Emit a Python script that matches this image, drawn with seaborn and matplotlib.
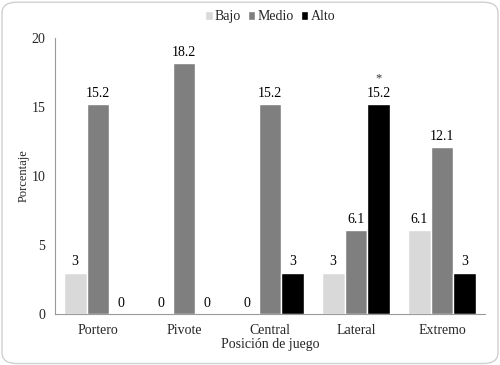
import matplotlib
matplotlib.use("Agg")
import matplotlib.pyplot as plt
import seaborn as sns
import pandas as pd
from matplotlib.patches import FancyBboxPatch

categories = ["Portero", "Pivote", "Central", "Lateral", "Extremo"]
levels = ["Bajo", "Medio", "Alto"]
bajo = [3, 0, 0, 3, 6.1]
medio = [15.2, 18.2, 15.2, 6.1, 12.1]
alto = [0, 0, 3, 15.2, 3]
colors = ["#d9d9d9", "#7f7f7f", "#000000"]

rows = []
for lvl, vals in zip(levels, [bajo, medio, alto]):
    for c, v in zip(categories, vals):
        rows.append({"Posición": c, "Nivel": lvl, "Porcentaje": v})
df = pd.DataFrame(rows)

sns.set_theme(style="white")
plt.rcParams["font.family"] = "serif"
plt.rcParams["font.serif"] = ["Liberation Serif", "DejaVu Serif"]

fig = plt.figure(figsize=(5, 3.65), dpi=100)
ax = fig.add_axes([0.11, 0.14, 0.86, 0.756])

sns.barplot(data=df, x="Posición", y="Porcentaje", hue="Nivel",
            hue_order=levels, order=categories, palette=colors,
            width=0.8, ax=ax, errorbar=None, saturation=1, legend=True)

for cont in ax.containers:
    labels = [f"{b.get_height():g}" for b in cont]
    ax.bar_label(cont, labels=labels, padding=3, fontsize=10, color="black")

# asterisk above Lateral - Alto
alto_cont = ax.containers[2]
b = alto_cont[3]
ax.text(b.get_x() + b.get_width() / 2, b.get_height() + 1.45, "*",
        ha="center", va="bottom", fontsize=9, color="#333333")

ax.set_ylim(0, 20)
ax.set_yticks([0, 5, 10, 15, 20])
ax.set_xlim(-0.5, 4.5)
ax.tick_params(axis="both", labelsize=10, length=0, pad=7)
ax.set_xlabel("Posición de juego", fontsize=10, labelpad=1)
ax.set_ylabel("Porcentaje", fontsize=9, labelpad=1)

for s in ["top", "right"]:
    ax.spines[s].set_visible(False)
for s in ["left", "bottom"]:
    ax.spines[s].set_color("#9a9a9a")
    ax.spines[s].set_linewidth(0.8)

leg = ax.legend(loc="center", bbox_to_anchor=(0.5, 1.076), ncol=3,
                frameon=False, fontsize=10, handlelength=0.55, handleheight=0.55,
                handletextpad=0.15, columnspacing=0.5, borderpad=0)

border = FancyBboxPatch((0.004, 0.004), 0.992, 0.99,
                        boxstyle="round,pad=0,rounding_size=0.03",
                        transform=fig.transFigure, fill=False,
                        edgecolor="#d0d0d0", linewidth=1.0)
fig.patches.append(border)

fig.savefig("out.png", dpi=100)
